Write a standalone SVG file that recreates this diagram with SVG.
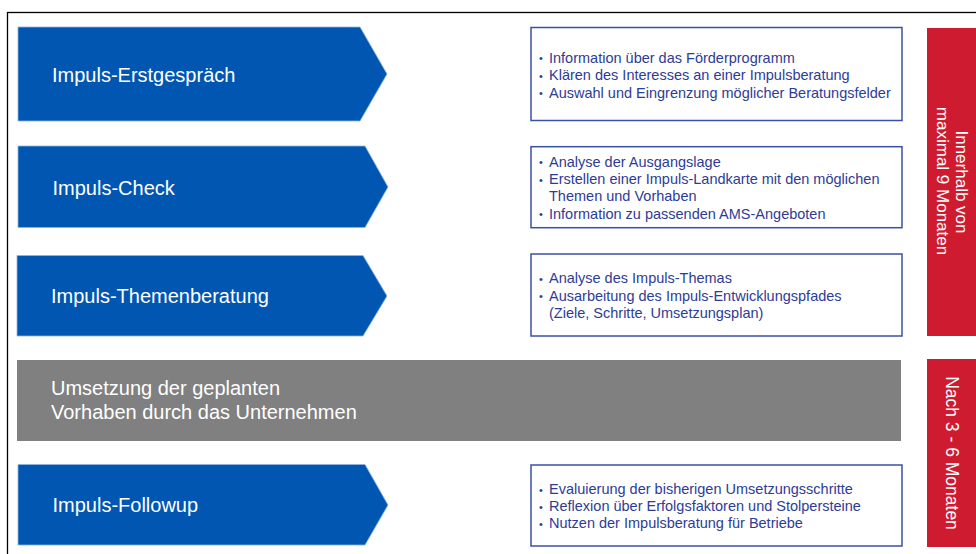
<svg xmlns="http://www.w3.org/2000/svg" width="976" height="554" viewBox="0 0 976 554">
<style>
.arrow{fill:#0056b1;stroke:#8db3e2;stroke-width:0.8}
.atext{font-family:"Liberation Sans",Arial,sans-serif;font-size:20px;fill:#ffffff}
.box{fill:#ffffff;stroke:#3a51a3;stroke-width:1.5}
.btext{font-family:"Liberation Sans",Arial,sans-serif;font-size:14.5px;fill:#2d3c96}
.bul{font-family:"Liberation Sans",Arial,sans-serif;font-size:11px;fill:#2d3c96}
.red{fill:#cf1b2f}
.rtext{font-family:"Liberation Sans",Arial,sans-serif;font-size:17px;fill:#ffffff;text-anchor:middle}
</style>
<rect x="0" y="0" width="976" height="554" fill="#ffffff"/>
<rect x="7.5" y="12.5" width="1000" height="600" fill="none" stroke="#000000" stroke-width="1.3"/>
<g id="connectors"></g>
<g id="step1">
<polygon class="arrow" points="18,27 360,27 387,74 360,121 18,121"/>
<text class="atext" x="52" y="82">Impuls-Erstgespräch</text>
</g>
<g id="step2">
<polygon class="arrow" points="18,146 365,146 388,187 365,227.5 18,227.5"/>
<text class="atext" x="52.5" y="195">Impuls-Check</text>
</g>
<g id="step3">
<polygon class="arrow" points="17,255.5 363,255.5 387,296 363,336 17,336"/>
<text class="atext" x="51" y="303">Impuls-Themenberatung</text>
</g>
<g id="step4">
<rect x="17" y="360" width="884" height="81" fill="#808080"/>
<text class="atext" x="51" y="395">Umsetzung der geplanten</text>
<text class="atext" x="51" y="419">Vorhaben durch das Unternehmen</text>
</g>
<g id="step5">
<polygon class="arrow" points="18,464.5 365,464.5 388,505 365,545 18,545"/>
<text class="atext" x="52.5" y="512">Impuls-Followup</text>
</g>
<g id="box1">
<rect class="box" x="531" y="27.5" width="371" height="93"/>
<text class="bul" x="539" y="62">•</text><text class="btext" x="549" y="62.5">Information über das Förderprogramm</text>
<text class="bul" x="539" y="79.5">•</text><text class="btext" x="549" y="80">Klären des Interesses an einer Impulsberatung</text>
<text class="bul" x="539" y="97">•</text><text class="btext" x="549" y="97.5">Auswahl und Eingrenzung möglicher Beratungsfelder</text>
</g>
<g id="box2">
<rect class="box" x="531" y="146.7" width="371" height="81"/>
<text class="bul" x="539" y="166">•</text><text class="btext" x="549" y="166.5">Analyse der Ausgangslage</text>
<text class="bul" x="539" y="183.5">•</text><text class="btext" x="549" y="184">Erstellen einer Impuls-Landkarte mit den möglichen</text>
<text class="btext" x="549" y="201.3">Themen und Vorhaben</text>
<text class="bul" x="539" y="218">•</text><text class="btext" x="549" y="218.5">Information zu passenden AMS-Angeboten</text>
</g>
<g id="box3">
<rect class="box" x="531" y="254" width="371" height="82"/>
<text class="bul" x="539" y="282.5">•</text><text class="btext" x="549" y="283">Analyse des Impuls-Themas</text>
<text class="bul" x="539" y="300">•</text><text class="btext" x="549" y="300.5">Ausarbeitung des Impuls-Entwicklungspfades</text>
<text class="btext" x="549" y="318">(Ziele, Schritte, Umsetzungsplan)</text>
</g>
<g id="box5">
<rect class="box" x="531" y="465" width="371" height="81"/>
<text class="bul" x="539" y="493.5">•</text><text class="btext" x="549" y="494">Evaluierung der bisherigen Umsetzungsschritte</text>
<text class="bul" x="539" y="510.5">•</text><text class="btext" x="549" y="511">Reflexion über Erfolgsfaktoren und Stolpersteine</text>
<text class="bul" x="539" y="528">•</text><text class="btext" x="549" y="528.3">Nutzen der Impulsberatung für Betriebe</text>
</g>
<g id="time1">
<rect class="red" x="927" y="28" width="60" height="308"/>
<text class="rtext" transform="translate(955.5,182) rotate(90)">Innerhalb von</text>
<text class="rtext" transform="translate(937,181) rotate(90)">maximal 9 Monaten</text>
</g>
<g id="time2">
<rect class="red" x="927" y="359" width="60" height="188"/>
<text class="rtext" style="font-size:17.5px" transform="translate(945.7,453) rotate(90)">Nach 3 - 6 Monaten</text>
</g>
</svg>
